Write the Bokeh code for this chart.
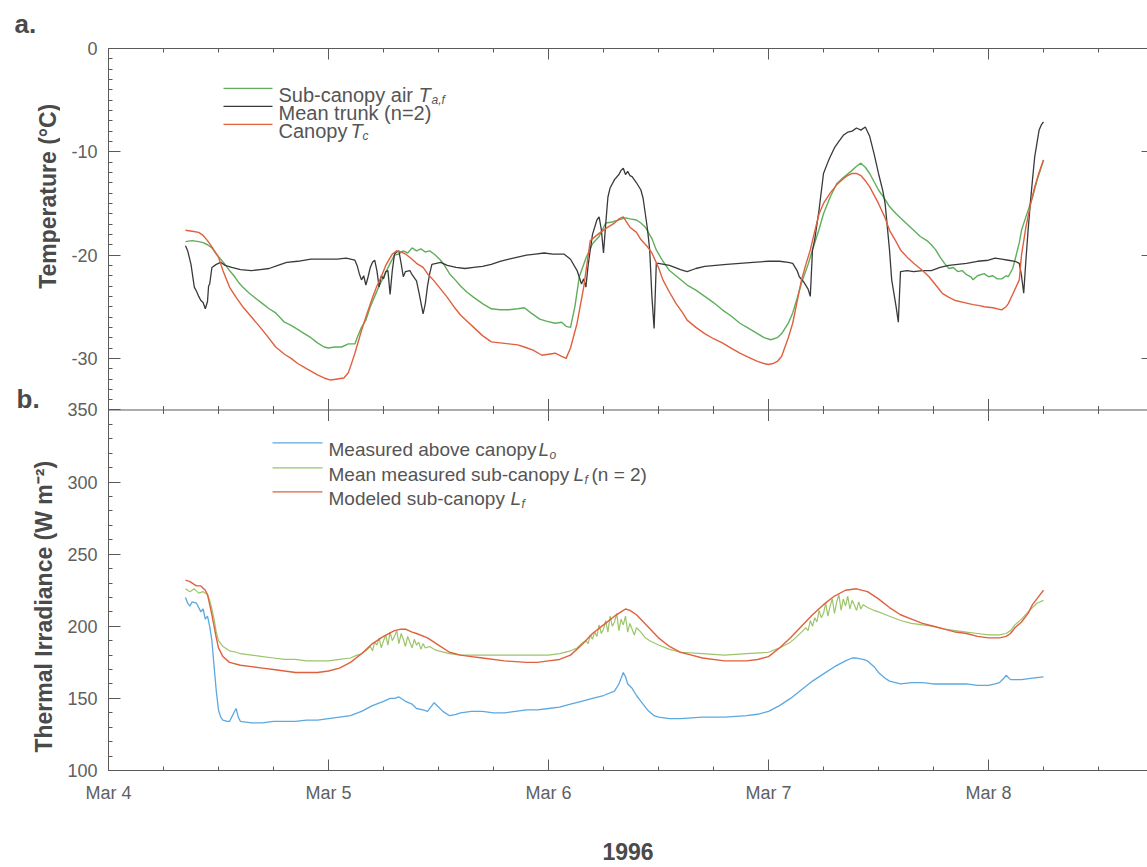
import numpy as np
from bokeh.plotting import figure
from bokeh.layouts import row
from bokeh.models import Range1d, LinearAxis, FixedTicker, Label, Span, CustomJSTickFormatter
from bokeh.embed import file_html
from bokeh.resources import INLINE

# ---------------- data (time = days after Mar 4 00:00, 1996) ----------------
day_ticks = [0, 1, 2, 3, 4]
day_tick_labels = ["Mar 4", "Mar 5", "Mar 6", "Mar 7", "Mar 8"]
year_text = "1996"
temp_major = [0, -10, -20, -30]
irr_major = [100, 150, 200, 250, 300, 350]

# (a) sub-canopy air temperature T_a,f  (day, degC)
air_pts = [
    (0.35, -18.7), (0.38, -18.6), (0.41, -18.7), (0.43, -18.8), (0.45, -19.0), (0.47, -19.3), (0.49, -19.9),
    (0.51, -20.4), (0.53, -20.9), (0.55, -21.5), (0.57, -22.0), (0.59, -22.6), (0.61, -23.1), (0.64, -23.7),
    (0.67, -24.2), (0.70, -24.7), (0.73, -25.2), (0.76, -25.6), (0.80, -26.5), (0.83, -26.8), (0.86, -27.2),
    (0.89, -27.6), (0.92, -28.0), (0.95, -28.5), (0.98, -28.9), (1.00, -29.0), (1.03, -28.9), (1.06, -28.9),
    (1.09, -28.6), (1.12, -28.6), (1.13, -28.0), (1.15, -27.0), (1.17, -26.3), (1.19, -25.0), (1.21, -24.0),
    (1.23, -23.0), (1.26, -21.7), (1.28, -20.8), (1.30, -20.0), (1.32, -19.9), (1.34, -19.6), (1.36, -19.8),
    (1.38, -19.3), (1.40, -19.6), (1.42, -19.4), (1.44, -19.7), (1.46, -19.6), (1.48, -19.9), (1.51, -20.5),
    (1.53, -21.1), (1.55, -21.8), (1.58, -22.5), (1.60, -23.0), (1.63, -23.6), (1.66, -24.1), (1.70, -24.7),
    (1.74, -25.2), (1.78, -25.3), (1.82, -25.3), (1.86, -25.2), (1.89, -25.1), (1.92, -25.6), (1.96, -26.2),
    (1.99, -26.4), (2.03, -26.6), (2.06, -26.5), (2.08, -26.9), (2.10, -27.0), (2.12, -25.0), (2.14, -22.1),
    (2.17, -20.3), (2.20, -18.9), (2.23, -18.2), (2.26, -16.9), (2.29, -16.8), (2.32, -16.6), (2.35, -16.4),
    (2.37, -16.5), (2.40, -16.6), (2.42, -16.9), (2.44, -17.3), (2.47, -18.4), (2.49, -19.5), (2.52, -20.6),
    (2.55, -21.5), (2.59, -22.2), (2.63, -22.9), (2.67, -23.4), (2.71, -24.0), (2.75, -24.6), (2.79, -25.3),
    (2.83, -25.9), (2.87, -26.6), (2.91, -27.1), (2.95, -27.6), (2.98, -28.0), (3.01, -28.2), (3.04, -28.0),
    (3.06, -27.6), (3.09, -26.6), (3.11, -25.6), (3.13, -24.2), (3.15, -22.7), (3.18, -20.9), (3.20, -19.5),
    (3.23, -17.5), (3.25, -16.0), (3.28, -14.4), (3.31, -13.1), (3.34, -12.5), (3.38, -11.8), (3.40, -11.4),
    (3.42, -11.1), (3.44, -11.5), (3.46, -12.1), (3.48, -12.9), (3.50, -13.7), (3.53, -14.6), (3.55, -15.3),
    (3.58, -16.0), (3.61, -16.6), (3.65, -17.4), (3.69, -18.2), (3.72, -18.6), (3.74, -19.0), (3.76, -19.5),
    (3.78, -20.2), (3.80, -20.8), (3.82, -21.3), (3.84, -21.2), (3.86, -21.6), (3.88, -21.5), (3.90, -21.9),
    (3.92, -22.1), (3.93, -22.4), (3.95, -22.0), (3.98, -21.8), (4.00, -22.1), (4.02, -22.0), (4.04, -22.3),
    (4.06, -22.3), (4.08, -22.0), (4.09, -22.1), (4.11, -21.3), (4.12, -20.5), (4.14, -18.8), (4.15, -17.6),
    (4.17, -16.3), (4.20, -14.4), (4.22, -12.8), (4.25, -10.8)]

# (a) mean trunk temperature (n=2)
trunk_pts = [
    (0.35, -19.1), (0.36, -19.6), (0.375, -20.9), (0.39, -23.1), (0.40, -23.5), (0.41, -24.0), (0.42, -24.4),
    (0.43, -24.6), (0.44, -25.2), (0.45, -24.5), (0.455, -23.0), (0.46, -22.8), (0.465, -22.0), (0.47, -21.2),
    (0.49, -20.9), (0.51, -20.7), (0.53, -21.0), (0.56, -21.2), (0.60, -21.4), (0.65, -21.5), (0.69, -21.4),
    (0.73, -21.3), (0.77, -21.0), (0.81, -20.7), (0.86, -20.6), (0.92, -20.4), (0.98, -20.4), (1.04, -20.4),
    (1.08, -20.3), (1.10, -20.4), (1.12, -20.5), (1.13, -21.0), (1.14, -21.8), (1.15, -22.4), (1.16, -22.0),
    (1.17, -22.9), (1.18, -22.1), (1.19, -21.2), (1.20, -20.7), (1.21, -20.5), (1.22, -21.5), (1.23, -23.1),
    (1.24, -22.0), (1.25, -22.3), (1.26, -21.6), (1.27, -21.5), (1.28, -23.8), (1.29, -21.5), (1.30, -19.9),
    (1.31, -19.7), (1.32, -19.6), (1.33, -20.8), (1.34, -22.1), (1.35, -21.6), (1.37, -21.5), (1.38, -21.9),
    (1.40, -22.5), (1.41, -23.5), (1.43, -25.7), (1.44, -24.7), (1.45, -23.0), (1.46, -21.8), (1.47, -20.9),
    (1.49, -20.8), (1.51, -20.7), (1.54, -21.0), (1.58, -21.2), (1.62, -21.3), (1.66, -21.2), (1.70, -21.1),
    (1.74, -20.9), (1.78, -20.6), (1.82, -20.4), (1.86, -20.2), (1.90, -20.0), (1.94, -19.9), (1.98, -19.8),
    (2.02, -19.9), (2.07, -19.9), (2.10, -20.4), (2.13, -21.5), (2.15, -22.8), (2.16, -22.3), (2.17, -23.1),
    (2.18, -21.0), (2.20, -18.0), (2.22, -16.6), (2.23, -16.3), (2.24, -17.5), (2.25, -19.8), (2.26, -17.0),
    (2.27, -14.4), (2.28, -13.5), (2.30, -12.7), (2.32, -12.2), (2.33, -11.8), (2.34, -11.6), (2.35, -12.2),
    (2.36, -11.9), (2.37, -12.3), (2.38, -12.4), (2.40, -13.0), (2.42, -13.7), (2.43, -14.5), (2.44, -16.0),
    (2.45, -17.5), (2.46, -19.5), (2.47, -24.0), (2.48, -27.1), (2.49, -20.8), (2.50, -20.8), (2.55, -21.0),
    (2.60, -21.4), (2.63, -21.6), (2.67, -21.3), (2.71, -21.1), (2.76, -21.0), (2.81, -20.9), (2.87, -20.8),
    (2.93, -20.7), (3.00, -20.6), (3.05, -20.6), (3.09, -20.7), (3.11, -20.8), (3.13, -21.5), (3.14, -22.1),
    (3.16, -22.6), (3.18, -23.3), (3.19, -24.0), (3.20, -19.5), (3.21, -18.5), (3.23, -15.6), (3.25, -12.1),
    (3.27, -11.0), (3.28, -10.5), (3.30, -9.6), (3.32, -9.0), (3.34, -8.4), (3.36, -8.1), (3.38, -8.0),
    (3.40, -7.7), (3.42, -7.9), (3.44, -7.6), (3.46, -8.5), (3.48, -10.2), (3.50, -12.1), (3.52, -13.8),
    (3.53, -15.0), (3.55, -19.5), (3.56, -22.4), (3.58, -25.0), (3.59, -26.5), (3.60, -21.6), (3.63, -21.5),
    (3.66, -21.6), (3.70, -21.5), (3.74, -21.5), (3.78, -21.2), (3.82, -21.0), (3.86, -20.9), (3.90, -20.8),
    (3.95, -20.6), (4.00, -20.5), (4.03, -20.3), (4.06, -20.4), (4.09, -20.5), (4.12, -20.6), (4.14, -20.8),
    (4.15, -22.0), (4.16, -23.7), (4.17, -20.5), (4.18, -17.6), (4.19, -15.0), (4.20, -12.7), (4.21, -10.5),
    (4.23, -7.9), (4.24, -7.4), (4.25, -7.1)]

# (a) canopy temperature T_c
canopy_pts = [
    (0.35, -17.6), (0.38, -17.7), (0.41, -17.8), (0.43, -18.1), (0.45, -18.6), (0.47, -19.2), (0.50, -20.2),
    (0.52, -21.5), (0.55, -23.1), (0.58, -24.1), (0.61, -25.0), (0.65, -26.0), (0.69, -27.0), (0.72, -27.8),
    (0.76, -28.9), (0.80, -29.6), (0.83, -30.0), (0.86, -30.5), (0.90, -31.0), (0.95, -31.6), (0.98, -31.9),
    (1.01, -32.1), (1.04, -32.0), (1.07, -31.9), (1.09, -31.4), (1.10, -30.8), (1.12, -29.5), (1.15, -27.3),
    (1.17, -26.0), (1.20, -24.1), (1.22, -23.0), (1.24, -22.1), (1.26, -21.0), (1.29, -19.9), (1.31, -19.6),
    (1.33, -19.7), (1.35, -19.9), (1.38, -20.4), (1.40, -20.8), (1.43, -21.2), (1.45, -21.8), (1.48, -22.5),
    (1.51, -23.3), (1.54, -24.1), (1.57, -25.0), (1.60, -25.8), (1.63, -26.4), (1.66, -27.0), (1.70, -27.8),
    (1.74, -28.4), (1.78, -28.5), (1.82, -28.6), (1.86, -28.7), (1.89, -28.9), (1.93, -29.2), (1.97, -29.7),
    (2.00, -29.6), (2.03, -29.5), (2.06, -29.8), (2.08, -30.0), (2.10, -29.0), (2.13, -26.6), (2.16, -23.1),
    (2.19, -18.6), (2.23, -17.9), (2.27, -17.3), (2.30, -16.9), (2.32, -16.5), (2.34, -16.3), (2.37, -17.3),
    (2.40, -17.8), (2.42, -18.5), (2.45, -19.2), (2.47, -19.8), (2.50, -21.2), (2.52, -22.4), (2.55, -23.6),
    (2.58, -24.7), (2.61, -25.6), (2.63, -26.3), (2.67, -27.0), (2.71, -27.6), (2.75, -28.1), (2.79, -28.5),
    (2.83, -29.0), (2.87, -29.5), (2.91, -29.9), (2.95, -30.3), (2.98, -30.5), (3.00, -30.6), (3.02, -30.5),
    (3.04, -30.3), (3.06, -29.8), (3.07, -29.2), (3.09, -28.0), (3.11, -26.6), (3.13, -24.5), (3.15, -22.4),
    (3.17, -20.9), (3.19, -19.5), (3.21, -17.7), (3.23, -16.0), (3.25, -15.0), (3.28, -14.0), (3.31, -13.2),
    (3.34, -12.6), (3.36, -12.3), (3.38, -12.1), (3.40, -12.1), (3.42, -12.3), (3.44, -12.8), (3.46, -13.4),
    (3.48, -14.2), (3.50, -15.0), (3.53, -16.4), (3.55, -17.6), (3.58, -18.7), (3.60, -19.5), (3.63, -20.2),
    (3.66, -20.8), (3.70, -21.5), (3.73, -22.1), (3.76, -22.9), (3.79, -23.7), (3.82, -24.1), (3.85, -24.4),
    (3.89, -24.6), (3.93, -24.8), (3.96, -24.9), (3.98, -25.0), (4.02, -25.1), (4.06, -25.3), (4.08, -25.0),
    (4.09, -24.7), (4.11, -23.8), (4.14, -22.4), (4.15, -20.0), (4.17, -17.3), (4.19, -15.2), (4.21, -13.4),
    (4.23, -12.0), (4.25, -10.8)]

# (b) measured above-canopy longwave L_o  (day, W m-2)
lo_pts = [
    (0.35, 220), (0.36, 216), (0.37, 214), (0.38, 217), (0.40, 216), (0.42, 210), (0.43, 212), (0.44, 205),
    (0.45, 207), (0.46, 200), (0.47, 190), (0.48, 172), (0.49, 155), (0.50, 142), (0.51, 137), (0.52, 135),
    (0.54, 134), (0.55, 134), (0.56, 137), (0.57, 140), (0.58, 143), (0.59, 137), (0.60, 134), (0.65, 133),
    (0.70, 133), (0.75, 134), (0.80, 134), (0.85, 134), (0.90, 135), (0.95, 135), (1.00, 136), (1.05, 137),
    (1.10, 138), (1.15, 141), (1.20, 145), (1.25, 148), (1.28, 150), (1.30, 150), (1.32, 151), (1.35, 148),
    (1.38, 146), (1.40, 143), (1.43, 142), (1.45, 141), (1.47, 145), (1.48, 147), (1.50, 144), (1.52, 141),
    (1.55, 138), (1.58, 139), (1.60, 140), (1.65, 141), (1.70, 141), (1.75, 140), (1.80, 140), (1.85, 141),
    (1.90, 142), (1.95, 142), (2.00, 143), (2.05, 144), (2.10, 146), (2.15, 148), (2.20, 150), (2.25, 152),
    (2.30, 155), (2.32, 160), (2.34, 168), (2.35, 165), (2.36, 160), (2.38, 157), (2.40, 152), (2.42, 148),
    (2.45, 142), (2.48, 138), (2.50, 137), (2.55, 136), (2.60, 136), (2.70, 137), (2.80, 137), (2.90, 138),
    (2.95, 139), (3.00, 141), (3.05, 145), (3.10, 150), (3.15, 156), (3.20, 162), (3.25, 167), (3.30, 172),
    (3.35, 176), (3.38, 178), (3.40, 178), (3.43, 177), (3.45, 176), (3.48, 172), (3.50, 168), (3.53, 164),
    (3.55, 162), (3.60, 160), (3.65, 161), (3.70, 161), (3.75, 160), (3.80, 160), (3.85, 160), (3.90, 160),
    (3.95, 159), (4.00, 159), (4.03, 160), (4.05, 161), (4.07, 164), (4.08, 166), (4.10, 163), (4.12, 163),
    (4.15, 163), (4.20, 164), (4.25, 165)]

# (b) mean measured sub-canopy longwave L_f (n = 2)
lf_meas_pts = [
    (0.35, 226), (0.37, 224), (0.39, 226), (0.41, 223), (0.43, 224), (0.45, 222), (0.46, 218), (0.47, 212),
    (0.48, 205), (0.49, 196), (0.50, 190), (0.52, 186), (0.55, 183), (0.58, 182), (0.60, 181), (0.65, 180),
    (0.70, 179), (0.75, 178), (0.80, 177), (0.85, 177), (0.90, 176), (0.95, 176), (1.00, 176), (1.05, 177),
    (1.10, 178), (1.13, 180), (1.15, 181), (1.17, 183), (1.19, 186), (1.20, 183), (1.21, 189), (1.22, 187),
    (1.23, 192), (1.24, 185), (1.25, 190), (1.26, 194), (1.27, 187), (1.28, 196), (1.29, 190), (1.30, 193),
    (1.31, 197), (1.32, 188), (1.33, 195), (1.34, 191), (1.35, 186), (1.36, 193), (1.37, 189), (1.38, 185),
    (1.39, 191), (1.40, 187), (1.41, 189), (1.42, 184), (1.43, 188), (1.44, 185), (1.46, 186), (1.48, 184),
    (1.50, 183), (1.55, 181), (1.60, 180), (1.70, 180), (1.80, 180), (1.90, 180), (2.00, 180), (2.05, 181),
    (2.10, 183), (2.13, 185), (2.15, 188), (2.17, 190), (2.18, 188), (2.19, 194), (2.20, 191), (2.21, 196),
    (2.22, 193), (2.23, 201), (2.24, 195), (2.25, 198), (2.26, 204), (2.27, 196), (2.28, 207), (2.29, 200),
    (2.30, 203), (2.31, 209), (2.32, 197), (2.33, 205), (2.34, 201), (2.35, 207), (2.36, 196), (2.37, 202),
    (2.38, 198), (2.39, 194), (2.40, 199), (2.42, 196), (2.44, 192), (2.46, 190), (2.50, 187), (2.55, 184),
    (2.60, 182), (2.70, 181), (2.80, 180), (2.90, 181), (3.00, 182), (3.05, 185), (3.10, 189), (3.13, 193),
    (3.15, 196), (3.17, 199), (3.18, 197), (3.19, 204), (3.20, 200), (3.21, 206), (3.22, 203), (3.23, 211),
    (3.24, 206), (3.25, 209), (3.26, 216), (3.27, 207), (3.28, 214), (3.29, 219), (3.30, 209), (3.31, 217),
    (3.32, 222), (3.33, 211), (3.34, 219), (3.35, 214), (3.36, 221), (3.37, 212), (3.38, 218), (3.39, 215),
    (3.40, 211), (3.41, 217), (3.42, 212), (3.43, 215), (3.45, 213), (3.48, 211), (3.50, 210), (3.55, 207),
    (3.60, 204), (3.65, 202), (3.70, 201), (3.75, 200), (3.80, 198), (3.85, 197), (3.90, 196), (3.95, 195),
    (4.00, 194), (4.05, 194), (4.08, 195), (4.10, 197), (4.12, 201), (4.15, 205), (4.18, 210), (4.20, 213),
    (4.22, 216), (4.25, 218)]

# (b) modeled sub-canopy longwave L_f
lf_mod_pts = [
    (0.35, 232), (0.37, 231), (0.40, 228), (0.42, 228), (0.44, 225), (0.45, 222), (0.46, 215), (0.47, 208),
    (0.48, 200), (0.49, 192), (0.50, 185), (0.52, 179), (0.55, 175), (0.60, 173), (0.65, 172), (0.70, 171),
    (0.75, 170), (0.80, 169), (0.85, 168), (0.90, 168), (0.95, 168), (1.00, 169), (1.05, 171), (1.10, 175),
    (1.15, 181), (1.20, 188), (1.25, 193), (1.30, 197), (1.33, 198), (1.35, 198), (1.38, 196), (1.40, 195),
    (1.45, 192), (1.50, 187), (1.55, 182), (1.60, 180), (1.65, 179), (1.70, 178), (1.80, 176), (1.90, 175),
    (1.95, 175), (2.00, 176), (2.05, 177), (2.10, 180), (2.15, 187), (2.20, 195), (2.25, 201), (2.30, 207),
    (2.33, 210), (2.35, 212), (2.37, 211), (2.40, 208), (2.45, 200), (2.50, 192), (2.55, 186), (2.60, 182),
    (2.65, 180), (2.70, 178), (2.80, 176), (2.90, 176), (2.95, 177), (3.00, 179), (3.05, 185), (3.10, 192),
    (3.15, 200), (3.20, 208), (3.25, 215), (3.30, 221), (3.35, 225), (3.40, 226), (3.45, 224), (3.50, 219),
    (3.55, 213), (3.60, 208), (3.65, 205), (3.70, 202), (3.75, 200), (3.80, 198), (3.85, 196), (3.90, 195),
    (3.95, 193), (4.00, 192), (4.05, 192), (4.08, 193), (4.10, 195), (4.12, 199), (4.15, 203), (4.18, 209),
    (4.20, 215), (4.22, 219), (4.25, 225)]


def cols(pts):
    return [a for a, _ in pts], [b for _, b in pts]


# ---------------- layout constants (pixels of the whole page) ----------------
W, H = 1147, 867
SIDE = 60                      # width of the strip that carries the panel titles
FL, FR, FT, FB = 108, 1147, 47, 770
MID = 409
PX_DAY = 220.0
TEMP_TOP, TEMP_BOT = 0.0, -35.0
IRR_MID, IRR_BOT = 350.0, 100.0

irr_px = (FB - MID) / (IRR_MID - IRR_BOT)
irr_end = IRR_BOT + (FB - FT) / irr_px
temp_px = (MID - FT) / (TEMP_TOP - TEMP_BOT)
temp_start = TEMP_TOP - (FB - FT) / temp_px
x_end = (FR - FL) / PX_DAY


def temp_to_irr(t):
    v = IRR_BOT + (t - temp_start) * (irr_end - IRR_BOT) / (TEMP_TOP - temp_start)
    return min(v, irr_end - 1e-6)


def X(px):
    return (px - FL) / PX_DAY


def Y(py):
    return IRR_BOT + (FB - py) / irr_px


AX = "#5a5a5a"
TICK_TXT = "#606060"
TITLE = "#4a4a4a"
LEG_TXT = "#555555"
GREEN = "#5fae5c"
GREEN_B = "#9cc56b"
BLACK = "#3a3a3a"
ORANGE = "#e0603e"
BLUE = "#5ca8e0"
FONT = "Liberation Sans"

# ---------------- side strip with the panel letters and y titles ----------------
# its frame is aligned with the main frame (page rows FT..FB), so y data == page pixel row
side = figure(width=SIDE, height=H, x_range=Range1d(0, SIDE), y_range=Range1d(FB, FT),
              min_border_left=0, min_border_right=0, min_border_top=0, min_border_bottom=0,
              x_axis_location=None, y_axis_location=None, toolbar_location=None, output_backend="svg")
side.outline_line_color = None
side.grid.visible = False
side.background_fill_color = "white"
side.border_fill_color = "white"
side.title.text = "a."
side.title.align = "left"
side.title.offset = 14
side.title.vertical_align = "top"
side.title.text_font = FONT
side.title.text_font_size = "26px"
side.title.text_font_style = "bold"
side.title.text_color = TITLE
side.title.standoff = 16


def slabel(px, py, text, size, align="left", angle=0.0):
    side.add_layout(Label(x=px, y=py, text=text, text_font=FONT, text_font_size=f"{size}px",
                          text_font_style="bold", text_color=TITLE, text_align=align,
                          text_baseline="alphabetic", angle=angle))


slabel(16, 398, "b.", 26)
slabel(47, 195, "Temperature (°C)", 23, "center", np.pi / 2)
slabel(43, 606, "Thermal Irradiance (W m⁻²)", 23, "center", np.pi / 2)

# ---------------- main plot ----------------
p = figure(width=W - SIDE, height=H, x_range=Range1d(0, x_end), y_range=Range1d(IRR_BOT, irr_end),
           min_border_left=FL - SIDE, min_border_right=W - FR, min_border_top=FT, min_border_bottom=H - FB,
           toolbar_location=None, output_backend="svg")
p.extra_y_ranges = {"temp": Range1d(temp_start, TEMP_TOP)}
p.outline_line_color = None
p.grid.visible = False
p.background_fill_color = "white"
p.border_fill_color = "white"

minor_days = [i * 0.25 for i in range(0, 19)]


def style_axis(ax, tick_in, minor_in, standoff):
    ax.axis_line_color = AX
    ax.axis_line_width = 1
    ax.major_tick_line_color = AX
    ax.minor_tick_line_color = AX
    ax.major_tick_in = tick_in
    ax.major_tick_out = 0
    ax.minor_tick_in = minor_in
    ax.minor_tick_out = 0
    ax.major_label_standoff = standoff
    ax.major_label_text_font = FONT
    ax.major_label_text_font_size = "18px"
    ax.major_label_text_color = TICK_TXT


# bottom x axis, with the year as its title
xa = p.xaxis[0]
xa.ticker = FixedTicker(ticks=day_ticks, minor_ticks=minor_days)
xa.formatter = CustomJSTickFormatter(args=dict(labels=day_tick_labels),
                                     code="const i = Math.round(tick); return (i >= 0 && i < labels.length) ? labels[i] : '';")
style_axis(xa, 11, 4, 12)
xa.axis_label = year_text
xa.axis_label_text_font = FONT
xa.axis_label_text_font_size = "23px"
xa.axis_label_text_font_style = "bold"
xa.axis_label_text_color = TITLE
xa.axis_label_standoff = 37

# left y axis (both panels on one axis line)
ya = p.yaxis[0]
ya.ticker = FixedTicker(
    ticks=irr_major + [temp_to_irr(t) for t in temp_major],
    minor_ticks=list(range(100, 351, 10)) + [temp_to_irr(t) for t in range(-35, 1)])
ya.formatter = CustomJSTickFormatter(
    args=dict(cut=IRR_MID + 1, i0=IRR_BOT, i1=irr_end, t0=temp_start, t1=TEMP_TOP),
    code="""if (tick > cut) { const t = Math.round(t0 + (tick - i0) * (t1 - t0) / (i1 - i0)); return (t === 0 ? 0 : t).toString(); }
return Math.round(tick).toString();""")
style_axis(ya, 12, 4, 11)

# top x axis (ticks only)
top_axis = LinearAxis(ticker=FixedTicker(ticks=day_ticks, minor_ticks=minor_days),
                      formatter=CustomJSTickFormatter(code="return '';"))
style_axis(top_axis, 11, 4, 0)
p.add_layout(top_axis, "above")

# right temperature ticks
right_axis = LinearAxis(y_range_name="temp", ticker=FixedTicker(ticks=temp_major[1:], minor_ticks=[]),
                        formatter=CustomJSTickFormatter(code="return '';"))
style_axis(right_axis, 6, 0, 0)
right_axis.axis_line_color = None
p.add_layout(right_axis, "right")

# panel divider with crossing ticks
p.add_layout(Span(location=IRR_MID, dimension="width", line_color=AX, line_width=1))
p.scatter(x=day_ticks, y=[IRR_MID] * len(day_ticks), marker="dash", size=22, angle=np.pi / 2,
          line_color=AX, line_width=1)
minor_only = [d for d in minor_days if abs(d - round(d)) > 1e-6]
p.scatter(x=minor_only, y=[IRR_MID] * len(minor_only), marker="dash", size=8, angle=np.pi / 2,
          line_color=AX, line_width=1)

# ---------------- series ----------------
for pts, col, lw in [(air_pts, GREEN, 1.4), (trunk_pts, BLACK, 1.3), (canopy_pts, ORANGE, 1.4)]:
    t, v = cols(pts)
    p.line(t, v, y_range_name="temp", line_color=col, line_width=lw)

for pts, col, lw in [(lo_pts, BLUE, 1.3), (lf_meas_pts, GREEN_B, 1.2), (lf_mod_pts, ORANGE, 1.4)]:
    t, v = cols(pts)
    p.line(t, v, line_color=col, line_width=lw)


# ---------------- legends ----------------
def label(px, py, text, size, style="normal"):
    p.add_layout(Label(x=X(px), y=Y(py), text=text, text_font=FONT, text_font_size=f"{size}px",
                       text_font_style=style, text_color=LEG_TXT, text_align="left",
                       text_baseline="alphabetic"))


leg_a = [(GREEN, 87), (BLACK, 105), (ORANGE, 123)]
for c, yy in leg_a:
    p.line([X(223), X(272)], [Y(yy)] * 2, line_color=c, line_width=1.3)
label(278, 94, "Sub-canopy air", 20)
label(418, 94, "T", 20, "italic")
label(431, 99, "a,f", 12, "italic")
label(278, 112, "Mean trunk (n=2)", 20)
label(278, 130, "Canopy", 20)
label(350, 130, "T", 20, "italic")
label(362, 135, "c", 12, "italic")

leg_b = [(BLUE, 442), (GREEN_B, 467), (ORANGE, 491)]
for c, yy in leg_b:
    p.line([X(272), X(322)], [Y(yy)] * 2, line_color=c, line_width=1.3)
label(328, 449, "Measured above canopy", 19)
label(538, 449, "L", 19, "italic")
label(549, 454, "o", 12, "italic")
label(328, 474, "Mean measured sub-canopy", 19)
label(573, 474, "L", 19, "italic")
label(584, 479, "f", 12, "italic")
label(591, 474, "(n = 2)", 19)
label(328, 498, "Modeled sub-canopy", 19)
label(510, 498, "L", 19, "italic")
label(521, 503, "f", 12, "italic")

layout = row(side, p)
open("out.html", "w").write(file_html(layout, INLINE))
